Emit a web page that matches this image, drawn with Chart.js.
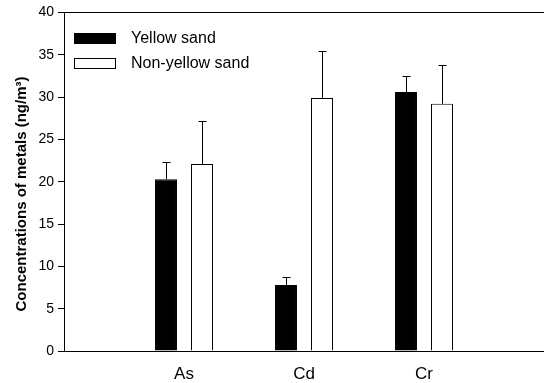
<!DOCTYPE html>
<html>
<head>
<meta charset="utf-8">
<script src="https://cdn.jsdelivr.net/npm/chart.js@4/dist/chart.umd.min.js"></script>
<style>
  html, body { margin: 0; padding: 0; background: #fff; }
  #wrap { width: 544px; height: 383px; position: relative; }
</style>
</head>
<body>
<div id="wrap"><canvas id="metalsChart"></canvas></div>
<script>
// metals, padded with empty slots at both ends like the original axis
const categories = ["", "As", "Cd", "Cr", ""];
const yellowSand = [null, 20.3, 7.8, 30.6, null];
const yellowErr = [null, 2.0, 0.9, 1.9, null];
const nonYellowSand = [null, 22.1, 29.9, 29.2, null];
const nonYellowErr = [null, 5.1, 5.5, 4.6, null];
const yTicks = [0, 5, 10, 15, 20, 25, 30, 35, 40];
const yTitle = "Concentrations of metals (ng/m³)";

const FONT = "'Liberation Sans', Arial, sans-serif";

// upward-only error bars with a small cap
const errorBars = {
  id: "errorBars",
  afterDatasetsDraw(chart) {
    const ctx = chart.ctx;
    const yScale = chart.scales.y;
    const errs = [yellowErr, nonYellowErr];
    ctx.save();
    ctx.strokeStyle = "#000";
    ctx.lineWidth = 1;
    chart.data.datasets.forEach((ds, di) => {
      const meta = chart.getDatasetMeta(di);
      meta.data.forEach((bar, i) => {
        const v = ds.data[i];
        const e = errs[di][i];
        if (v == null || e == null) return;
        const x = Math.round(bar.x) + 0.5;
        const yTop = yScale.getPixelForValue(v);
        const yErr = Math.round(yScale.getPixelForValue(v + e)) + 0.5;
        ctx.beginPath();
        ctx.moveTo(x, yTop);
        ctx.lineTo(x, yErr);
        ctx.moveTo(x - 4, yErr);
        ctx.lineTo(x + 4, yErr);
        ctx.stroke();
      });
    });
    ctx.restore();
  }
};

// top frame line, y title and the legend box inside the plot
const frameAndLegend = {
  id: "frameAndLegend",
  afterDraw(chart) {
    const ctx = chart.ctx;
    const area = chart.chartArea;
    ctx.save();
    ctx.strokeStyle = "#000";
    ctx.lineWidth = 1;
    ctx.beginPath();
    ctx.moveTo(area.left, Math.round(area.top) + 0.5);
    ctx.lineTo(area.right, Math.round(area.top) + 0.5);
    ctx.stroke();

    ctx.fillStyle = "#000";
    ctx.save();
    ctx.translate(22, 194);
    ctx.rotate(-Math.PI / 2);
    ctx.font = "bold 15px " + FONT;
    ctx.textAlign = "center";
    ctx.textBaseline = "middle";
    ctx.fillText(yTitle, 0, 0);
    ctx.restore();

    ctx.font = "16px " + FONT;
    ctx.textBaseline = "middle";
    chart.data.datasets.forEach((ds, i) => {
      const y = 33 + i * 25;
      if (i === 0) {
        ctx.fillRect(74, y, 42, 11);
      } else {
        ctx.strokeRect(74.5, y + 0.5, 41, 10);
      }
      ctx.fillText(ds.label, 131, y + 6);
    });
    ctx.restore();
  }
};

new Chart(document.getElementById("metalsChart"), {
  type: "bar",
  data: {
    labels: categories,
    datasets: [
      {
        label: "Yellow sand",
        data: yellowSand,
        backgroundColor: "#000",
        borderColor: "#000",
        borderWidth: 1,
        categoryPercentage: 0.6,
        barPercentage: 0.61
      },
      {
        label: "Non-yellow sand",
        data: nonYellowSand,
        backgroundColor: "#fff",
        borderColor: "#000",
        borderWidth: 1,
        categoryPercentage: 0.6,
        barPercentage: 0.61
      }
    ]
  },
  options: {
    responsive: true,
    maintainAspectRatio: false,
    animation: false,
    layout: { padding: { top: 12, right: 0, left: 0, bottom: 0 } },
    plugins: {
      legend: { display: false },
      tooltip: { enabled: false }
    },
    scales: {
      x: {
        offset: false,
        grid: { display: false },
        border: { display: true, color: "#000", width: 1 },
        ticks: { color: "#000", font: { family: FONT, size: 17 }, padding: 5 },
        afterFit(scale) {
          scale.height = 32;
          scale.paddingLeft = 0;
          scale.paddingRight = 0;
        }
      },
      y: {
        min: 0,
        max: 40,
        afterBuildTicks(scale) { scale.ticks = yTicks.map(v => ({ value: v })); },
        grid: { drawOnChartArea: false, drawTicks: true, tickLength: 6, color: "#000" },
        border: { display: true, color: "#000", width: 1 },
        ticks: { color: "#000", font: { family: FONT, size: 14 }, padding: 4 },
        afterFit(scale) { scale.width = 64; }
      }
    }
  },
  plugins: [errorBars, frameAndLegend]
});
</script>
</body>
</html>
